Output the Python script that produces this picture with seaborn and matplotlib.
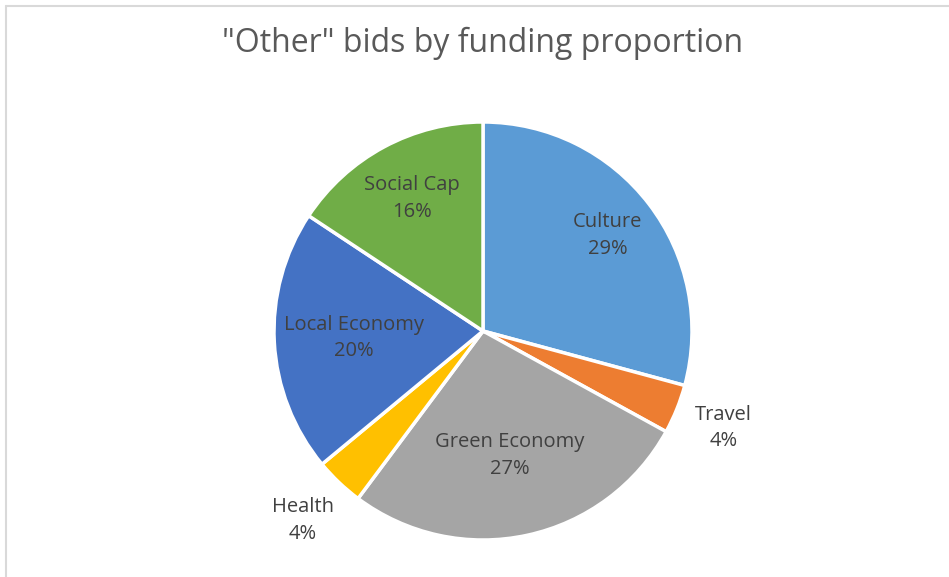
import matplotlib.pyplot as plt
import seaborn as sns
from matplotlib.lines import Line2D
import numpy as np

categories = ['Culture', 'Travel', 'Green Economy', 'Health', 'Local Economy', 'Social Cap']
shares = [29.2, 3.8, 27.2, 3.8, 20.3, 15.7]
pct_labels = ['29%', '4%', '27%', '4%', '20%', '16%']
colors = ['#5B9BD5', '#ED7D31', '#A5A5A5', '#FFC000', '#4472C4', '#70AD47']

# where Excel put each label, as a fraction of the radius
label_radius = [0.75, 1.24, 0.61, 1.25, 0.62, 0.72]

sns.set_theme(style='white')
plt.rcParams['font.family'] = ['Open Sans', 'DejaVu Sans']

fig = plt.figure(figsize=(9.49, 5.77), dpi=100)
fig.patch.set_facecolor('white')

# chart area border (only top and left show in the crop)
fig.add_artist(Line2D([5.5 / 949, 5.5 / 949], [0, 1 - 5.5 / 577], color='#D9D9D9', lw=1.5))
fig.add_artist(Line2D([5.5 / 949, 1], [1 - 5.5 / 577, 1 - 5.5 / 577], color='#D9D9D9', lw=1.5))

ax = fig.add_axes([274 / 949, 37 / 577, 418 / 949, 418 / 577])
wedges, _ = ax.pie(shares, colors=colors, startangle=90, counterclock=False,
                   wedgeprops=dict(edgecolor='white', linewidth=2.5))
ax.set_xlim(-1, 1)
ax.set_ylim(-1, 1)
ax.set_aspect('equal')
ax.axis('off')

for w, name, pct, r in zip(wedges, categories, pct_labels, label_radius):
    ang = np.deg2rad((w.theta1 + w.theta2) / 2)
    ax.text(r * np.cos(ang), r * np.sin(ang), name + '\n' + pct,
            ha='center', va='center', fontsize=14.5, color='#404040',
            linespacing=1.45)

fig.text(483 / 949, 1 - 43 / 577, '"Other" bids by funding proportion',
         ha='center', va='center', fontsize=23, color='#595959')

fig.savefig('out.png', dpi=100)
